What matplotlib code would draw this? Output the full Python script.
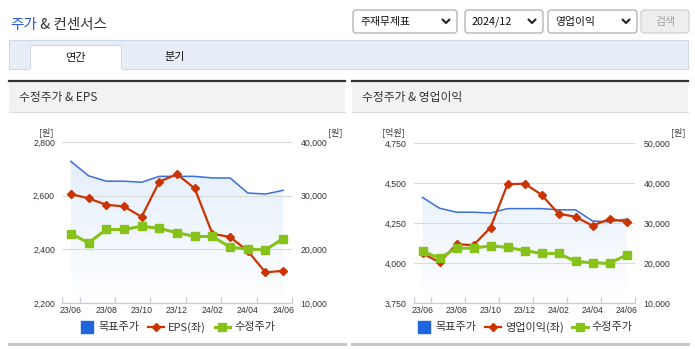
import numpy as np
import matplotlib.pyplot as plt
from matplotlib.patches import Rectangle, FancyBboxPatch, Polygon
from matplotlib.lines import Line2D
from matplotlib.colors import LinearSegmentedColormap

plt.rcParams['font.family'] = ['Noto Sans CJK KR', 'DejaVu Sans']

# monthly data, 23/06 .. 24/06
months = ['23/06', '23/07', '23/08', '23/09', '23/10', '23/11', '23/12',
          '24/01', '24/02', '24/03', '24/04', '24/05', '24/06']
target_price = [36400, 33700, 32700, 32700, 32500, 33600, 33600,
                33600, 33300, 33300, 30500, 30300, 31000]
adj_price = [22950, 21200, 23700, 23700, 24300, 23900, 23100,
             22400, 22400, 20400, 20050, 19900, 22000]
eps = [2606, 2590, 2566, 2560, 2521, 2652, 2680,
       2627, 2458, 2446, 2394, 2314, 2320]
op_income = [4061, 4004, 4117, 4112, 4221, 4492, 4496,
             4427, 4308, 4289, 4233, 4275, 4258]

eps_ticks = [2200, 2400, 2600, 2800]
op_ticks = [3750, 4000, 4250, 4500, 4750]
price_ticks_l = [10000, 20000, 30000, 40000]
price_ticks_r = [10000, 20000, 30000, 40000, 50000]

BLUE = '#3b6fd9'
BLUE_SQ = '#1f66de'
RED = '#cc3300'
GREEN = '#86c21a'
TXT = '#333333'
NUMFONT = ['Liberation Sans', 'DejaVu Sans']

W, H = 695, 349
fig = plt.figure(figsize=(W / 100, H / 100), dpi=100)

# page background in pixel coordinates
bg = fig.add_axes([0, 0, 1, 1])
bg.set_xlim(0, W)
bg.set_ylim(H, 0)
bg.axis('off')

t = bg.text(10, 25, '주가', fontsize=10.5, color='#2a5bd7', va='center')
bg.annotate(' & 컨센서스', xy=(1, 0.5), xycoords=t, fontsize=10.5, color=TXT, va='center')

def dropdown(x0, x1, label):
    bg.add_patch(FancyBboxPatch((x0, 10), x1 - x0, 23, boxstyle='round,pad=0,rounding_size=3',
                                fc='white', ec='#a5a5a5', lw=0.8))
    bg.text(x0 + 7, 21.5, label, fontsize=7.8, color='#111111', va='center')
    cx = x1 - 11
    bg.plot([cx - 3.5, cx, cx + 3.5], [19.5, 23, 19.5], color='#222222', lw=1.5,
            solid_capstyle='round', solid_joinstyle='round')

dropdown(353, 457, '주재무제표')
dropdown(465, 543, '2024/12')
dropdown(548, 637, '영업이익')
bg.add_patch(FancyBboxPatch((641, 10), 48, 23, boxstyle='round,pad=0,rounding_size=3',
                            fc='#eeeeee', ec='#cccccc', lw=0.8))
bg.text(665, 21.5, '검색', fontsize=7.8, color='#a0a0a0', va='center', ha='center')

# tab bar
bg.add_patch(Rectangle((9, 40), 679, 29, fc='#e8eef8', ec='#cfd9e8', lw=0.8))
bg.add_patch(Rectangle((30, 45), 91, 25, fc='white', ec='#cfd9e8', lw=0.8))
bg.plot([30.5, 120.5], [69.5, 69.5], color='white', lw=1.5)
bg.text(75.5, 57.5, '연간', fontsize=8, color='#111111', ha='center', va='center')
bg.text(175, 57, '분기', fontsize=8, color='#111111', ha='center', va='center')

fill_cmap = LinearSegmentedColormap.from_list('fade', ['#ffffff', '#e0ecfb'])
x = np.arange(len(months))


def panel(x0, x1, title, px0, px1, ptop, vals, vals_name, vlim, vticks, vunit, unit_x,
          plim, pticks):
    # panel header and frame lines
    bg.add_patch(Rectangle((x0, 82), x1 - x0, 30, fc='#f2f2f2', ec='none'))
    bg.plot([x0, x1], [81, 81], color='#333333', lw=1.6)
    bg.plot([x0, x1], [112, 112], color='#dddddd', lw=0.8)
    bg.plot([x0, x1], [344, 344], color='#c8c8c8', lw=2.2)
    bg.text(x0 + 10, 97, title, fontsize=8.5, color=TXT, va='center')

    rect = [px0 / W, 1 - 303 / H, (px1 - px0) / W, (303 - ptop) / H]
    ax_bg = fig.add_axes(rect)   # price scale: fill, target price, grid
    ax_v = fig.add_axes(rect)    # left scale: EPS / operating income
    ax_fg = fig.add_axes(rect)   # price scale: adjusted price on top
    for a in (ax_bg, ax_v, ax_fg):
        a.patch.set_visible(False)
        for s in a.spines.values():
            s.set_visible(False)
        a.set_xlim(-0.5, len(months) - 0.5)
    ax_bg.set_zorder(1)
    ax_v.set_zorder(2)
    ax_fg.set_zorder(3)

    # gradient area under target price
    lo, hi = plim
    verts = [(0, lo)] + list(zip(x, target_price)) + [(len(months) - 1, lo)]
    poly = Polygon(verts, closed=True, fc='none', ec='none')
    ax_bg.add_patch(poly)
    grad = np.linspace(1, 0, 256).reshape(-1, 1)
    im = ax_bg.imshow(grad, extent=[-0.5, len(months) - 0.5, lo, hi], aspect='auto',
                      cmap=fill_cmap, vmin=0, vmax=1, origin='upper', zorder=1)
    im.set_clip_path(poly)
    for p in pticks:
        ax_bg.axhline(p, color='#dadada', lw=0.8, zorder=2)
    ax_bg.plot(x, target_price, color=BLUE, lw=1.1, zorder=3)
    ax_bg.set_xlim(-0.5, len(months) - 0.5)
    ax_bg.set_ylim(plim)
    ax_bg.set_xticks([])
    ax_bg.yaxis.tick_right()
    ax_bg.set_yticks(pticks)
    ax_bg.set_yticklabels([f'{p:,}' for p in pticks], fontsize=6.3, color=TXT, family=NUMFONT)
    ax_bg.tick_params(axis='y', length=0, pad=6)

    ax_v.plot(x, vals, color=RED, lw=1.6, marker='D', markersize=4.2)
    ax_v.set_ylim(vlim)
    ax_v.set_yticks(vticks)
    ax_v.set_yticklabels([f'{v:,}' for v in vticks], fontsize=6.3, color=TXT, family=NUMFONT)
    ax_v.tick_params(axis='y', length=0, pad=5)
    ax_v.spines['bottom'].set_visible(True)
    ax_v.spines['bottom'].set_color('#c3cddc')
    ax_v.spines['bottom'].set_linewidth(0.9)
    ax_v.set_xticks([-0.5, 0.5, 2.5, 4.5, 6.5, 8.5, 10.5, 12.5])
    ax_v.set_xticklabels([])
    ax_v.tick_params(axis='x', which='major', direction='in', length=4, color='#c3cddc', width=0.9)
    ax_v.set_xticks(x[::2], minor=True)
    ax_v.set_xticklabels(months[::2], minor=True, fontsize=6.3, color=TXT, family=NUMFONT)
    ax_v.tick_params(axis='x', which='minor', length=0, pad=2.5)

    ax_fg.plot(x, adj_price, color=GREEN, lw=2.2, marker='s', markersize=6)
    ax_fg.set_ylim(plim)
    ax_fg.set_xticks([])
    ax_fg.set_yticks([])

    # unit labels
    bg.text(unit_x, 132, vunit, fontsize=6.5, color=TXT, ha='center', va='center')
    bg.text(px1 + 43, 132, '[원]', fontsize=6.5, color=TXT, ha='center', va='center')

    handles = [Line2D([], [], ls='none', marker='s', markersize=8.5, color=BLUE_SQ),
               Line2D([], [], color=RED, lw=1.6, marker='D', markersize=4.2),
               Line2D([], [], color=GREEN, lw=2.2, marker='s', markersize=5.5)]
    fig.legend(handles, ['목표주가', vals_name, '수정주가'], loc='center', ncol=3,
               bbox_to_anchor=((px0 + px1) / 2 / W, 1 - 327 / H), frameon=False,
               fontsize=8, handlelength=1.4, handletextpad=0.35, columnspacing=0.8,
               labelcolor=TXT, borderpad=0)


panel(9, 345, '수정주가 & EPS', 62, 292, 142, eps, 'EPS(좌)', (2200, 2800), eps_ticks,
      '[원]', 46, (10000, 40000), price_ticks_l)
panel(352, 688, '수정주가 & 영업이익', 414, 635, 143, op_income, '영업이익(좌)', (3750, 4750),
      op_ticks, '[억원]', 393, (10000, 50000), price_ticks_r)

fig.savefig('out.png', dpi=100)
